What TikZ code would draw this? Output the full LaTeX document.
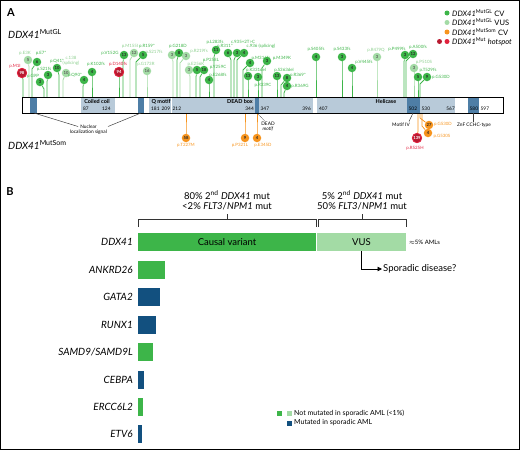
\documentclass[tikz,border=0pt]{standalone}
\usepackage{fontspec}
\setmainfont{Lato}
\usetikzlibrary{arrows.meta}
\pgfdeclarelayer{bg}
\pgfsetlayers{bg,main}
\definecolor{cvg}{HTML}{3DB549}
\definecolor{vusg}{HTML}{A3DBA5}
\definecolor{vust}{HTML}{8CCF8E}
\definecolor{somo}{HTML}{F7941D}
\definecolor{hotr}{HTML}{E1213D}
\definecolor{hotdr}{HTML}{B81A30}
\definecolor{doml}{HTML}{B8CAD9}
\definecolor{domd}{HTML}{4E7EA6}
\definecolor{navy}{HTML}{12507F}
\newcommand{\lolg}[9]{%
  \node[#2] (#1) at (#3,#4) {#6};
  \node[l#2] (#1l) at (#8,#9) {#7};
  \coordinate (#1k) at (#5,#4+7);
  \coordinate (#1b) at (#5,97);
  \begin{pgfonlayer}{bg}\draw[st#2] (#1) -- (#1k) -- (#1b);\end{pgfonlayer}
}
\newcommand{\lols}[9]{%
  \node[#2] (#1) at (#3,#4) {#6};
  \node[l#2] (#1l) at (#8,#9) {#7};
  \coordinate (#1k) at (#5,#4-7);
  \coordinate (#1b) at (#5,113);
  \begin{pgfonlayer}{bg}\draw[stsom] (#1) -- (#1k) -- (#1b);\end{pgfonlayer}
}
\tikzset{
  lol/.style={circle, inner sep=0pt, minimum size=8.5pt, font=\bfseries\fontsize{4.2}{4.5}\selectfont},
  cv/.style={lol, fill=cvg, text=black!85},
  vus/.style={lol, fill=vusg, text=black!65},
  som/.style={lol, fill=somo, text=black!85},
  hot/.style={lol, minimum size=9.5pt, fill=hotdr, draw=hotr, line width=0.8pt, text=white},
  lab/.style={inner sep=0pt, align=center, font=\fontsize{4.4}{4.9}\selectfont},
  lcv/.style={lab, text=cvg},
  lvus/.style={lab, text=vust},
  lsom/.style={lab, text=somo},
  lhot/.style={lab, text=hotr},
  stcv/.style={draw=cvg, line width=0.75pt},
  stvus/.style={draw=vusg, line width=0.75pt},
  sthot/.style={draw=cvg, line width=0.75pt},
  stsom/.style={draw=somo, line width=0.75pt},
  dtitle/.style={inner sep=0pt, font=\bfseries\fontsize{5.5}{6}\selectfont},
  dnum/.style={inner sep=0pt, anchor=west, font=\fontsize{4.8}{5}\selectfont},
  note/.style={inner sep=0pt, align=center, font=\fontsize{4.8}{5.6}\selectfont},
  dot/.style={circle, inner sep=0pt, minimum size=5pt},
  legt/.style={anchor=west, inner sep=0pt, font=\fontsize{7.5}{9}\selectfont},
  hdr/.style={inner sep=0pt, font=\fontsize{9.5}{11}\selectfont},
  gene/.style={anchor=east, inner sep=0pt, font=\itshape\fontsize{10}{12}\selectfont},
  bar/.style={anchor=west, minimum height=18pt, inner sep=0pt, outer sep=0pt, font=\fontsize{9.5}{11}\selectfont},
  sq/.style={inner sep=0pt, minimum size=5pt},
  brk/.style={line width=0.8pt, draw=black!80}
}
\begin{document}
\begin{tikzpicture}[x=1pt,y=-1pt]
\useasboundingbox (0,0) rectangle (520,450);
\draw[line width=0.8pt] (0.5,0.5) rectangle (519.5,449.5);
% ---------------- Panel A
\node[font=\bfseries\fontsize{11}{12}\selectfont] (lblA) at (11,13) {A};
\node[anchor=west, inner sep=0pt, font=\fontsize{10}{12}\selectfont] (gl) at (8,34) {\textit{DDX41}\textsuperscript{MutGL}};
\node[anchor=west, inner sep=0pt, font=\fontsize{10}{12}\selectfont] (som) at (8,145) {\textit{DDX41}\textsuperscript{MutSom}};
% legend
\node[dot, fill=cvg] (la1) at (447,13) {};
\node[legt] (la1t) at (452,13) {\textit{DDX41}\textsuperscript{MutGL} CV};
\node[dot, fill=vusg] (la2) at (447,22.5) {};
\node[legt] (la2t) at (452,22.5) {\textit{DDX41}\textsuperscript{MutGL} VUS};
\node[dot, fill=somo] (la3) at (447,32) {};
\node[legt] (la3t) at (452,32) {\textit{DDX41}\textsuperscript{MutSom} CV};
\node[dot, fill=hotdr] (la4a) at (439.5,41.5) {};
\node[dot, fill=hotr] (la4b) at (447,41.5) {};
\node[legt] (la4t) at (452,41.5) {\textit{DDX41}\textsuperscript{Mut} \textit{hotspot}};
% protein bar
\fill[white] (22,97) rectangle (503,113);
\fill[domd] (30,97) rectangle (37,113);
\fill[doml] (81,97) rectangle (115,113);
\fill[domd] (138,97) rectangle (144,113);
\fill[doml] (149,97) rectangle (170.5,113);
\fill[doml] (171.5,97) rectangle (255,113);
\fill[domd] (255,97) rectangle (259,113);
\fill[doml] (259,97) rectangle (313,113);
\fill[doml] (317,97) rectangle (407,113);
\fill[domd] (407,97) rectangle (420,113);
\fill[doml] (420,97) rectangle (455,113);
\fill[domd] (468,97) rectangle (479,113);
\draw[line width=0.7pt] (22,97) rectangle (503,113);
\node[dtitle] (cc) at (97,101.5) {Coiled coil};
\node[dnum] (n87) at (83,108.5) {87};
\node[dnum] (n124) at (102,108.5) {124};
\node[dtitle, anchor=west] (qm) at (151.5,101.5) {Q motif};
\node[dnum] (n181) at (151,108.5) {181};
\node[dnum] (n209) at (161.5,108.5) {209};
\node[dnum] (n212) at (172.5,108.5) {212};
\node[dtitle, anchor=east] (dead) at (253,101.5) {DEAD box};
\node[dnum, anchor=east] (n344) at (254,108.5) {344};
\node[dnum] (n347) at (260.5,108.5) {347};
\node[dnum, anchor=east] (n396) at (311,108.5) {396};
\node[dnum] (n407) at (319,108.5) {407};
\node[dtitle] (hel) at (386,101.5) {Helicase};
\node[dnum] (n502) at (408.5,108.5) {502};
\node[dnum] (n530) at (421.5,108.5) {530};
\node[dnum, anchor=east] (n567) at (455,108.5) {567};
\node[dnum] (n580) at (469.5,108.5) {580};
\node[dnum] (n597) at (480.5,108.5) {597};
% annotations
\node[note] (nls) at (88.5,129.5) {Nuclear\\localization signal};
\coordinate (nls1) at (34,113); \coordinate (nls1e) at (78,126.5);
\coordinate (nls2) at (141,113); \coordinate (nls2e) at (108,126.5);
\draw[line width=0.5pt, black!75] (nls1) -- (nls1e);
\draw[line width=0.5pt, black!75] (nls2) -- (nls2e);
\node[note] (dmo) at (268,126.5) {DEAD\\\textit{motif}};
\coordinate (dm1) at (257,113); \coordinate (dm2) at (264.5,121);
\draw[line width=0.5pt, densely dotted] (dm1) -- (dm2);
\node[note] (m4) at (401,125) {Motif IV};
\coordinate (m41) at (413,113); \coordinate (m42) at (409,121.5);
\draw[line width=0.5pt, black!75] (m41) -- (m42);
\node[note] (znf) at (474,125) {ZnF CCHC-type};
\coordinate (zn1) at (473.5,113); \coordinate (zn2) at (473.5,121.5);
\draw[line width=0.5pt, black!75] (zn1) -- (zn2);
% germline lollipops
\lolg{g1}{hot}{22}{73}{23}{98}{p.M1I}{15}{66}
\lolg{g2}{vus}{28}{60}{29}{5}{p.E3K}{25}{53}
\lolg{g3}{cv}{37}{62}{32}{6}{p.E7*}{41}{53}
\lolg{g4}{cv}{48}{75}{47}{3}{p.S21fs}{44}{69}
\lolg{g5}{cv}{40}{82}{44}{3}{p.G9P}{33}{76}
\lolg{g6}{cv}{57}{68}{59}{10}{p.Q41*}{57}{61}
\lolg{g7}{vus}{66}{73}{63}{10}{c.138\\(splicing)}{71}{61}
\lolg{g8}{cv}{84}{80}{83}{4}{p.Q90*}{75}{75}
\lolg{g9}{cv}{92}{72}{92}{4}{p.K102fs}{96}{64}
\lolg{g10}{hot}{119}{72}{119}{94}{p.D140fs}{118}{64}
\lolg{g11}{cv}{124}{55}{123}{13}{p.V152G}{110}{53}
\lolg{g12}{vus}{134}{53}{130}{12}{p.M155I}{130}{46.5}
\lolg{g13}{cv}{143}{55}{136}{5}{p.R159*}{147}{46.5}
\lolg{g14}{vus}{147}{71}{147}{16}{p.G173R}{146}{64}
\lolg{g15}{vus}{172}{55}{173}{3}{p.S217fs}{154}{52}
\lolg{g16}{cv}{179}{53}{177}{8}{p.G218D}{178}{46.5}
\lolg{g17}{vus}{186}{56}{180}{3}{p.R219fs}{199}{51}
\lolg{g18}{vus}{189}{70}{190}{3}{p.E256K}{196}{64}
\lolg{g19}{cv}{197}{70}{196}{5}{p.P258L}{211}{60}
\lolg{g20}{cv}{204}{70}{200}{18}{p.Y259C}{218}{67}
\lolg{g21}{cv}{209}{80}{209}{4}{p.E268fs}{218}{75}
\lolg{g22}{cv}{216}{50}{214}{11}{p.L283fs}{215}{42.5}
\lolg{g23}{cv}{228}{53}{231}{6}{p.R311*}{225}{46.5}
\lolg{g24}{cv}{237}{53}{234}{3}{c.935+2T>C}{243}{42}
\lolg{g25}{cv}{244}{53}{237}{4}{c.936 (splicing)}{261}{46.5}
\lolg{g26}{cv}{250}{63}{243}{4}{p.M316fs}{261}{58}
\lolg{g27}{cv}{267}{61}{262}{3}{p.M349K}{282}{58}
\lolg{g28}{cv}{248}{76}{248}{13}{p.K331del}{256}{70}
\lolg{g29}{cv}{258}{77}{258}{3}{p.R339C}{263}{85}
\lolg{g30}{cv}{277}{76}{277}{13}{p.S363del}{284}{70}
\lolg{g31}{cv}{287}{78}{281}{8}{p.R369*}{298}{75}
\lolg{g32}{cv}{287}{86}{284}{4}{p.R369G}{300}{86}
\lolg{g33}{cv}{316}{57}{316}{4}{p.S405fs}{316}{49}
\lolg{g34}{cv}{342}{57}{342}{3}{p.S433fs}{342}{49}
\lolg{g35}{cv}{352}{68}{352}{4}{p.V445fs}{364}{62}
\lolg{g36}{vus}{377}{57}{377}{3}{p.R479Q}{376}{50}
\lolg{g37}{cv}{405}{55}{404}{3}{p.P499fs}{397}{49}
\lolg{g38}{cv}{413}{54}{406}{12}{p.A500fs}{418}{47}
\lolg{g39}{vus}{414}{68}{414}{3}{p.P510S}{424}{62}
\lolg{g40}{cv}{418}{77}{418}{5}{p.T529fs}{428}{70}
\lolg{g41}{cv}{427}{77}{420}{9}{p.G530D}{441}{77}
% somatic lollipops
\lols{s1}{som}{186}{138}{186}{58}{p.T227M}{186}{145}
\lols{s2}{som}{245}{138}{245}{9}{p.P321L}{240}{145}
\lols{s3}{som}{257}{138}{257}{4}{p.E345D}{263}{145}
\lols{s4}{hot}{417}{138}{418}{139}{p.R525H}{415}{148}
\lols{s5}{som}{429}{125}{420}{27}{p.G530D}{443}{124}
\lols{s6}{som}{428}{133}{422}{4}{p.G530S}{442}{136}
% ---------------- Panel B
\node[font=\bfseries\fontsize{11}{12}\selectfont] (lblB) at (10,192) {B};
\node[hdr] (h1a) at (227,195) {80\% 2\textsuperscript{nd} \textit{DDX41} mut};
\node[hdr] (h1b) at (227,206) {<2\% \textit{FLT3}/\textit{NPM1} mut};
\node[hdr] (h2a) at (362,195) {5\% 2\textsuperscript{nd} \textit{DDX41} mut};
\node[hdr] (h2b) at (362,206) {50\% \textit{FLT3}/\textit{NPM1} mut};
\draw[brk] (138,227) -- (138,219) -- (316,219) -- (316,227);
\draw[brk] (227,219) -- (227,214);
\draw[brk] (318,227) -- (318,219) -- (406,219) -- (406,227);
\draw[brk] (362,219) -- (362,214);
\node[bar, fill=cvg, minimum width=178pt] (cvbar) at (138,242) {Causal variant};
\node[bar, fill=vusg, minimum width=89pt] (vusbar) at (317,242) {VUS};
\node[anchor=west, inner sep=0pt, font=\fontsize{6}{7}\selectfont] (aml) at (409,242) {$\approx$5\% AMLs};
\node[anchor=west, inner sep=1pt, font=\fontsize{9.5}{11}\selectfont] (spor) at (382,269) {Sporadic disease?};
\draw[line width=0.8pt, -{Triangle[length=4.5pt,width=4.5pt]}] (vusbar.south) |- (spor.west);
\node[gene] (gDDX) at (133,242) {DDX41};
\node[gene] (gANK) at (133,269.5) {ANKRD26};
\node[bar, fill=cvg, minimum width=27pt] (bANK) at (138,269.5) {};
\node[gene] (gGATA) at (133,297) {GATA2};
\node[bar, fill=navy, minimum width=22pt] (bGATA) at (138,297) {};
\node[gene] (gRUNX) at (133,324.5) {RUNX1};
\node[bar, fill=navy, minimum width=18pt] (bRUNX) at (138,324.5) {};
\node[gene] (gSAMD) at (133,352) {SAMD9/SAMD9L};
\node[bar, fill=cvg, minimum width=15pt] (bSAMD) at (138,352) {};
\node[gene] (gCEBPA) at (133,379.5) {CEBPA};
\node[bar, fill=navy, minimum width=6pt] (bCEBPA) at (138,379.5) {};
\node[gene] (gERCC) at (133,406.5) {ERCC6L2};
\node[bar, fill=cvg, minimum width=5pt] (bERCC) at (138,406.5) {};
\node[gene] (gETV) at (133,434) {ETV6};
\node[bar, fill=navy, minimum width=4pt] (bETV) at (138,434) {};
% legend B
\node[sq, fill=cvg] (lb1) at (279,413) {};
\node[sq, fill=vusg] (lb2) at (289,413) {};
\node[anchor=west, inner sep=0pt, font=\fontsize{7}{8}\selectfont] (lb1t) at (294,413) {Not mutated in sporadic AML (<1\%)};
\node[sq, fill=navy] (lb3) at (289,423) {};
\node[anchor=west, inner sep=0pt, font=\fontsize{7}{8}\selectfont] (lb3t) at (294,423) {Mutated in sporadic AML};
\end{tikzpicture}
\end{document}
